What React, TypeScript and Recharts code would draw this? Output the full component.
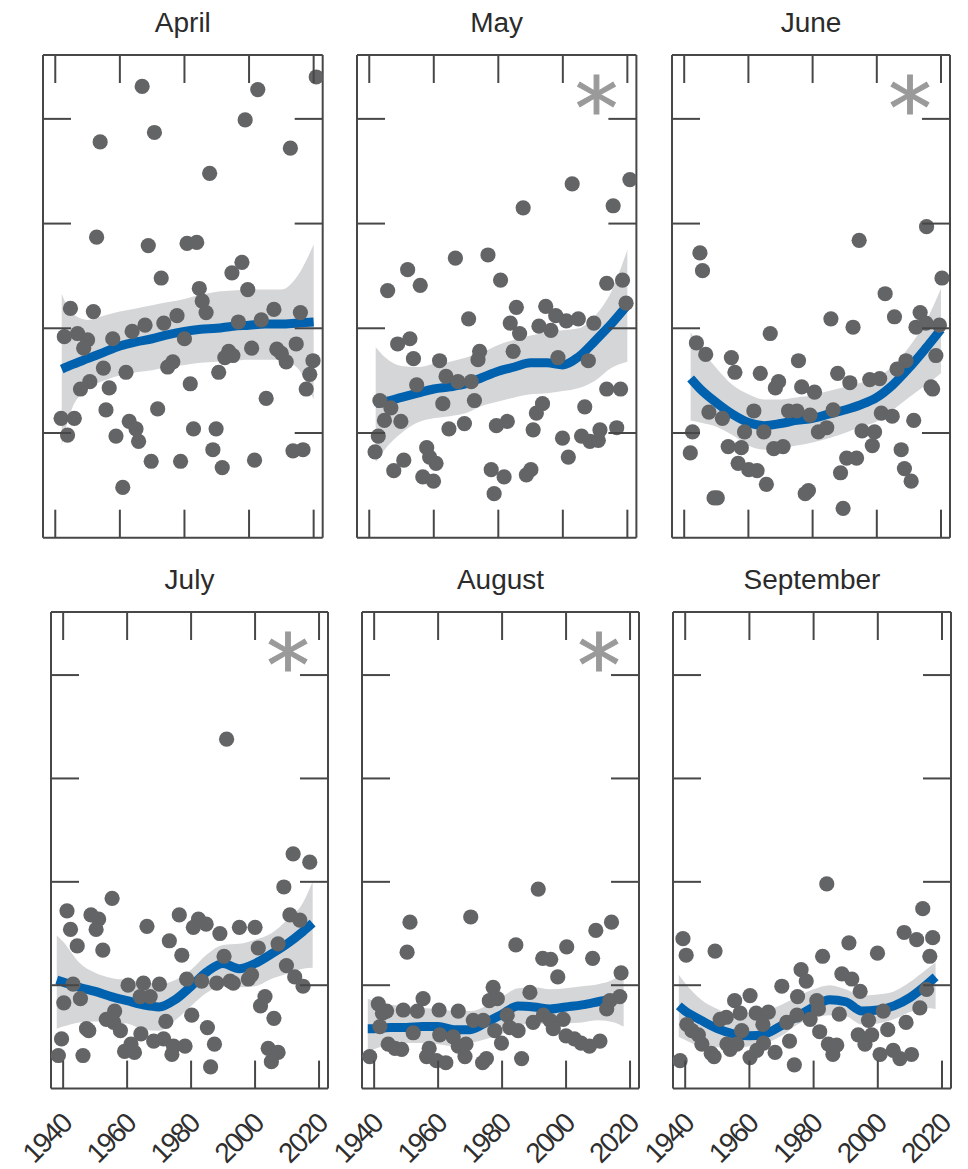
import React from 'react';
import { ComposedChart, XAxis, YAxis, Scatter, Line, Area } from 'recharts';

// annual values per month (y in tick units, ticks at 1..4)
const aprYear = [2020.8, 1966.9, 2002.7, 1998.8, 1970.7, 1953.9, 2012.8, 1987.8, 1952.8, 1968.8, 1980.8, 1983.8, 1997.8, 1994.7, 1972.8, 1984.6, 1999.6, 1985.5, 1986.7, 1944.7, 1951.8, 1977.7, 2007.7, 2015.9, 1967.8, 1973.6, 1963.8, 1996.7, 2003.8, 1942.8, 1946.9, 1950.0, 1948.8, 1957.8, 1980.0, 2014.6, 2000.8, 1993.7, 1995.0, 1992.5, 2008.6, 2010.0, 2011.5, 2019.8, 1976.4, 1974.8, 1954.9, 1961.9, 1990.6, 2018.8, 1950.7, 1947.8, 1956.7, 1981.8, 2017.7, 2005.3, 1955.7, 1971.7, 1941.8, 1945.9, 1943.8, 1962.9, 1965.0, 1958.8, 1965.8, 1982.8, 1989.8, 1988.8, 1969.7, 1978.8, 1991.7, 2001.7, 2013.6, 2016.7, 1960.9];
const aprValue = [4.40, 4.31, 4.28, 3.99, 3.87, 3.78, 3.72, 3.48, 2.87, 2.79, 2.81, 2.82, 2.63, 2.53, 2.48, 2.38, 2.37, 2.26, 2.15, 2.19, 2.16, 2.12, 2.18, 2.15, 2.03, 2.05, 1.97, 2.06, 2.08, 1.92, 1.95, 1.89, 1.81, 1.90, 1.90, 1.85, 1.81, 1.78, 1.74, 1.72, 1.80, 1.76, 1.68, 1.69, 1.68, 1.63, 1.62, 1.58, 1.58, 1.56, 1.49, 1.42, 1.43, 1.47, 1.42, 1.33, 1.22, 1.23, 1.14, 1.14, 0.98, 1.11, 1.04, 0.97, 0.92, 1.04, 1.04, 0.84, 0.73, 0.73, 0.67, 0.74, 0.83, 0.84, 0.48];

const mayYear = [2020.8, 2002.9, 2015.6, 1987.7, 1966.7, 1976.8, 1951.9, 1945.7, 1955.8, 1980.7, 2013.6, 2018.5, 1985.6, 1994.7, 1970.8, 1997.8, 2001.1, 2004.8, 2009.6, 1992.6, 1996.3, 1983.7, 1986.6, 2019.6, 1948.8, 1952.6, 1953.7, 1961.8, 1974.2, 1973.7, 1984.6, 1998.5, 2007.9, 1954.7, 1963.8, 1967.5, 1971.6, 1962.8, 1972.6, 1943.3, 1946.7, 1944.7, 1949.8, 1993.7, 1991.8, 2006.8, 2013.6, 2017.9, 1964.7, 1969.5, 1979.4, 1982.8, 1990.8, 1942.8, 1999.9, 2005.8, 2008.4, 2011.5, 2011.0, 2016.7, 1941.8, 1957.8, 1958.7, 1960.7, 1950.7, 1947.6, 1956.6, 1959.9, 1977.8, 1981.8, 1988.7, 1990.1, 1978.7, 2001.7];
const mayValue = [3.42, 3.38, 3.17, 3.15, 2.67, 2.70, 2.56, 2.36, 2.41, 2.46, 2.43, 2.46, 2.20, 2.21, 2.09, 2.12, 2.07, 2.09, 2.05, 2.02, 1.98, 2.05, 1.95, 2.24, 1.85, 1.90, 1.71, 1.69, 1.78, 1.70, 1.78, 1.72, 1.69, 1.46, 1.54, 1.49, 1.49, 1.28, 1.31, 1.31, 1.24, 1.12, 1.11, 1.28, 1.19, 1.25, 1.42, 1.42, 1.04, 1.09, 1.07, 1.11, 1.03, 0.97, 0.95, 0.97, 0.92, 1.03, 0.93, 1.05, 0.82, 0.86, 0.77, 0.71, 0.74, 0.64, 0.58, 0.54, 0.65, 0.58, 0.60, 0.65, 0.42, 0.77];

const junYear = [2015.5, 1994.5, 1944.9, 1945.7, 2020.3, 2002.6, 2005.5, 2013.5, 1985.7, 1992.6, 2012.2, 2015.3, 2019.5, 1966.8, 1943.8, 1946.7, 1954.7, 1955.8, 1963.7, 1975.6, 2018.4, 2009.1, 2006.3, 1987.8, 1969.4, 1968.4, 1991.6, 1976.6, 1980.6, 1997.8, 2000.9, 2016.9, 2017.4, 1947.7, 1961.7, 1951.9, 1972.5, 1975.1, 1979.2, 1986.4, 2001.4, 2004.8, 2011.5, 1942.6, 1958.8, 1964.8, 1981.8, 1984.4, 1995.4, 1999.3, 1941.9, 1953.7, 1957.8, 1967.9, 1970.8, 1998.6, 1956.8, 1960.1, 1962.7, 1965.6, 1990.6, 1993.7, 1988.7, 2007.6, 2008.6, 2010.7, 1950.3, 1977.7, 1989.5, 1949.3, 1978.7];
const junValue = [2.97, 2.84, 2.72, 2.55, 2.48, 2.33, 2.11, 2.15, 2.09, 2.01, 2.01, 2.05, 2.03, 1.95, 1.86, 1.75, 1.72, 1.58, 1.57, 1.69, 1.74, 1.69, 1.61, 1.57, 1.49, 1.43, 1.48, 1.44, 1.39, 1.51, 1.52, 1.44, 1.42, 1.20, 1.21, 1.14, 1.21, 1.21, 1.17, 1.22, 1.19, 1.16, 1.12, 1.01, 1.01, 1.01, 1.01, 1.05, 1.02, 1.01, 0.81, 0.87, 0.86, 0.85, 0.87, 0.88, 0.71, 0.65, 0.64, 0.51, 0.76, 0.76, 0.62, 0.84, 0.66, 0.54, 0.38, 0.42, 0.28, 0.38, 0.45];

const julYear = [1991.1, 2011.9, 2017.1, 2009.0, 1955.3, 1941.2, 1948.7, 1951.1, 1942.3, 1950.3, 1966.2, 1976.3, 1982.3, 1984.7, 1980.7, 1989.0, 1995.1, 2000.0, 2010.9, 2014.0, 1944.4, 1952.4, 1973.2, 1977.1, 1990.3, 2001.0, 2007.2, 2009.8, 2012.4, 2015.0, 1943.1, 1945.4, 1940.2, 1960.3, 1965.1, 1970.1, 1978.6, 1983.3, 1988.0, 1992.2, 1993.2, 1997.9, 1998.9, 1964.1, 1967.2, 1956.1, 1953.5, 1955.8, 1957.9, 1972.1, 1980.2, 2003.1, 2001.7, 2005.9, 1947.3, 1948.0, 1939.5, 1964.3, 1968.3, 1971.4, 1985.1, 1961.2, 1959.2, 1974.5, 1978.1, 1987.3, 1974.0, 2004.1, 2007.2, 2005.1, 1938.5, 1946.2, 1986.1, 1962.3];
const julValue = [3.38, 2.27, 2.19, 1.95, 1.84, 1.72, 1.68, 1.64, 1.54, 1.54, 1.57, 1.68, 1.64, 1.59, 1.56, 1.50, 1.56, 1.56, 1.68, 1.63, 1.38, 1.34, 1.43, 1.29, 1.28, 1.36, 1.40, 1.19, 1.08, 0.99, 1.01, 0.87, 0.83, 1.00, 1.02, 1.01, 1.06, 1.04, 1.02, 1.04, 1.02, 1.06, 1.10, 0.89, 0.89, 0.75, 0.67, 0.64, 0.56, 0.65, 0.71, 0.89, 0.80, 0.68, 0.58, 0.56, 0.48, 0.53, 0.46, 0.48, 0.59, 0.43, 0.36, 0.41, 0.41, 0.43, 0.33, 0.39, 0.35, 0.26, 0.32, 0.32, 0.21, 0.35];

const augYear = [1991.3, 1970.2, 1951.2, 2014.2, 2009.3, 1984.3, 2000.2, 1950.3, 1992.7, 1995.2, 2008.3, 1997.4, 2017.2, 1977.2, 1976.0, 1978.5, 1988.7, 1941.3, 1942.6, 1943.9, 1949.1, 1953.5, 1955.3, 1960.3, 1966.3, 2013.7, 2016.8, 2012.7, 1989.7, 1992.9, 1995.0, 1999.1, 1971.0, 1974.1, 1981.6, 1952.2, 1960.5, 1964.7, 1977.7, 1985.0, 1996.0, 1944.4, 1946.5, 1948.6, 1957.2, 1966.3, 1968.7, 1979.8, 2000.0, 2002.6, 2004.7, 2007.3, 2010.6, 1938.6, 1956.4, 1959.5, 1962.4, 1968.4, 1973.9, 1986.1, 1975.1, 1941.8, 1982.4];
const augValue = [1.93, 1.66, 1.61, 1.61, 1.53, 1.39, 1.37, 1.32, 1.26, 1.25, 1.26, 1.08, 1.12, 0.98, 0.85, 0.87, 0.93, 0.82, 0.73, 0.75, 0.76, 0.75, 0.87, 0.76, 0.75, 0.85, 0.89, 0.77, 0.64, 0.71, 0.66, 0.67, 0.66, 0.66, 0.71, 0.54, 0.52, 0.50, 0.56, 0.56, 0.58, 0.43, 0.39, 0.38, 0.39, 0.41, 0.43, 0.44, 0.51, 0.48, 0.44, 0.41, 0.46, 0.31, 0.31, 0.27, 0.25, 0.31, 0.25, 0.29, 0.29, 0.60, 0.59];

const sepYear = [1984.1, 2014.0, 1939.3, 1940.3, 1949.3, 1991.0, 2008.2, 2012.1, 2017.1, 1982.8, 1999.9, 2016.2, 1976.1, 1977.7, 1988.8, 1991.9, 1970.1, 1960.2, 1955.4, 1975.0, 1994.5, 1981.0, 2015.2, 1957.1, 1962.1, 1965.9, 1988.0, 2001.7, 2013.1, 1950.9, 1952.8, 1978.9, 1940.5, 1942.1, 1944.1, 1957.6, 1964.2, 1971.6, 1981.9, 1993.9, 1998.1, 2003.1, 2008.8, 1945.2, 1953.0, 1954.0, 1956.1, 1964.4, 1972.5, 1984.6, 1987.2, 1996.0, 1948.1, 1949.0, 1960.2, 1962.3, 1968.0, 1986.0, 2000.7, 2004.8, 2006.9, 2010.5, 1938.4, 1974.0, 1997.1, 1974.8, 1981.5];
const sepValue = [1.98, 1.74, 1.45, 1.29, 1.33, 1.41, 1.51, 1.44, 1.46, 1.28, 1.31, 1.28, 1.15, 1.04, 1.11, 1.06, 0.99, 0.90, 0.85, 0.89, 0.94, 0.85, 0.96, 0.73, 0.73, 0.74, 0.72, 0.75, 0.78, 0.67, 0.69, 0.67, 0.62, 0.56, 0.52, 0.56, 0.62, 0.64, 0.55, 0.52, 0.52, 0.57, 0.64, 0.43, 0.43, 0.38, 0.43, 0.44, 0.46, 0.43, 0.42, 0.43, 0.34, 0.31, 0.30, 0.37, 0.35, 0.33, 0.33, 0.37, 0.29, 0.33, 0.27, 0.23, 0.66, 0.71, 0.77];

// smoothed trend and its confidence band
const topFitYears = [1942, 1945, 1950, 1955, 1960, 1965, 1970, 1975, 1980, 1985, 1990, 1995, 2000, 2005, 2010, 2015, 2020];
const aprFit = [1.61, 1.65, 1.71, 1.77, 1.83, 1.87, 1.90, 1.94, 1.97, 1.99, 2.00, 2.02, 2.03, 2.04, 2.04, 2.05, 2.06];
const aprHi = [2.33, 2.15, 2.08, 2.12, 2.16, 2.19, 2.22, 2.25, 2.28, 2.32, 2.35, 2.36, 2.37, 2.37, 2.37, 2.50, 2.80];
const aprLo = [0.88, 1.22, 1.42, 1.50, 1.55, 1.58, 1.60, 1.63, 1.65, 1.67, 1.68, 1.69, 1.70, 1.70, 1.70, 1.62, 1.32];
const mayFit = [1.28, 1.30, 1.34, 1.38, 1.42, 1.44, 1.47, 1.53, 1.59, 1.63, 1.67, 1.67, 1.65, 1.73, 1.88, 2.04, 2.22];
const mayHi = [1.82, 1.72, 1.64, 1.63, 1.66, 1.68, 1.72, 1.77, 1.84, 1.89, 1.93, 1.96, 1.98, 2.00, 2.12, 2.35, 2.75];
const mayLo = [0.72, 0.85, 1.00, 1.10, 1.14, 1.16, 1.19, 1.26, 1.30, 1.34, 1.37, 1.38, 1.40, 1.43, 1.50, 1.62, 1.68];
const junFit = [1.52, 1.42, 1.29, 1.18, 1.10, 1.07, 1.09, 1.12, 1.14, 1.18, 1.22, 1.27, 1.34, 1.46, 1.62, 1.80, 1.99];
const junHi = [1.96, 1.82, 1.62, 1.46, 1.37, 1.32, 1.32, 1.34, 1.36, 1.40, 1.44, 1.48, 1.53, 1.64, 1.82, 2.05, 2.38];
const junLo = [1.12, 1.10, 1.06, 0.98, 0.88, 0.84, 0.85, 0.88, 0.91, 0.95, 1.00, 1.06, 1.11, 1.22, 1.34, 1.45, 1.57];

const bottomFitYears = [1938, 1940, 1945, 1950, 1955, 1960, 1965, 1970, 1975, 1980, 1985, 1990, 1995, 2000, 2005, 2010, 2015, 2018];
const julFit = [1.05, 1.03, 0.98, 0.94, 0.89, 0.85, 0.81, 0.79, 0.86, 0.99, 1.13, 1.21, 1.16, 1.21, 1.30, 1.40, 1.52, 1.60];
const julHi = [1.48, 1.42, 1.22, 1.12, 1.07, 1.05, 1.03, 1.01, 1.05, 1.15, 1.30, 1.39, 1.40, 1.44, 1.50, 1.63, 1.80, 2.00];
const julLo = [0.58, 0.60, 0.64, 0.65, 0.64, 0.63, 0.57, 0.56, 0.66, 0.80, 0.93, 0.99, 0.98, 0.99, 1.06, 1.11, 1.16, 1.17];
const augFit = [0.58, 0.58, 0.59, 0.59, 0.60, 0.60, 0.57, 0.57, 0.64, 0.72, 0.80, 0.79, 0.77, 0.79, 0.81, 0.84, 0.87, 0.89];
const augHi = [0.87, 0.85, 0.81, 0.80, 0.78, 0.77, 0.75, 0.75, 0.80, 0.89, 0.97, 0.98, 0.96, 0.97, 0.99, 1.01, 1.06, 1.15];
const augLo = [0.35, 0.38, 0.43, 0.44, 0.44, 0.43, 0.41, 0.44, 0.48, 0.53, 0.61, 0.63, 0.62, 0.63, 0.64, 0.66, 0.64, 0.60];
const sepFit = [0.80, 0.75, 0.66, 0.58, 0.53, 0.51, 0.53, 0.61, 0.70, 0.79, 0.86, 0.84, 0.75, 0.76, 0.80, 0.88, 1.00, 1.08];
const sepHi = [1.10, 1.02, 0.86, 0.77, 0.71, 0.72, 0.75, 0.81, 0.89, 0.96, 1.00, 0.96, 0.90, 0.91, 0.94, 1.03, 1.15, 1.22];
const sepLo = [0.50, 0.47, 0.41, 0.40, 0.39, 0.41, 0.44, 0.51, 0.62, 0.68, 0.71, 0.70, 0.62, 0.63, 0.67, 0.74, 0.78, 0.77];

const xTicks = [1940, 1960, 1980, 2000, 2020];
const yTicks = [1, 2, 3, 4];

const FONT = "'Liberation Sans', Arial, sans-serif";
const FRAME = '#474747';
const DOT = '#636466';
const BLUE = '#0061ae';
const BAND = '#d5d6d8';
const STAR = '#9a9a9a';
const TICK_LEN = 28;
// space round the frame; each axis takes 1px of it
const PAD = { top: 55, left: 45, right: 15, bottom: 85 };
const M = { top: PAD.top - 1, left: PAD.left - 1, right: PAD.right - 1, bottom: PAD.bottom - 1 };

interface PanelProps {
  title: string;
  years: number[];
  values: number[];
  fitYears: number[];
  fit: number[];
  lo: number[];
  hi: number[];
  star?: boolean;
  labels?: boolean;
  box: [number, number, number, number]; // left, top, right, bottom on the page
}

const Panel = ({ title, years, values, fitYears, fit, lo, hi, star, labels, box }: PanelProps) => {
  const [L, T, R, B] = box;
  const w = R - L;
  const h = B - T;
  const dots = years.map((year, i) => ({ year, value: values[i] }));
  const trend = fitYears.map((year, i) => ({ year, fit: fit[i], band: [lo[i], hi[i]] }));
  const frame = { stroke: FRAME, strokeWidth: 2 };

  return (
    <div style={{ position: 'absolute', left: L - PAD.left, top: T - PAD.top }}>
      <ComposedChart width={w + PAD.left + PAD.right} height={h + PAD.top + PAD.bottom} data={trend} margin={M}>
        <XAxis xAxisId="b" dataKey="year" type="number" domain={[1936.2, 2022.8]} allowDataOverflow
          ticks={xTicks} interval={0} height={1} tickSize={0} tickMargin={0} axisLine={frame} tickLine={false}
          tick={(p: any) => (
            <g>
              <line x1={p.x} y1={p.y} x2={p.x} y2={p.y - TICK_LEN} {...frame} />
              {labels && (
                <text x={p.x + 10} y={p.y + 37} textAnchor="end" fontSize={28} letterSpacing={-1.8} fill="#2e2e2e"
                  fontFamily={FONT} transform={`rotate(-45 ${p.x + 10} ${p.y + 37})`}>{p.payload.value}</text>
              )}
            </g>
          )} />
        <XAxis xAxisId="t" orientation="top" dataKey="year" type="number" domain={[1936.2, 2022.8]} allowDataOverflow
          ticks={xTicks} interval={0} height={1} tickSize={0} tickMargin={0} axisLine={frame} tickLine={false}
          tick={(p: any) => <line x1={p.x} y1={p.y} x2={p.x} y2={p.y + TICK_LEN} {...frame} />} />
        <YAxis yAxisId="l" type="number" domain={[0, 4.61]} allowDataOverflow ticks={yTicks} interval={0}
          width={1} tickSize={0} tickMargin={0} axisLine={frame} tickLine={false}
          tick={(p: any) => <line x1={p.x} y1={p.y} x2={p.x + TICK_LEN} y2={p.y} {...frame} />} />
        <YAxis yAxisId="r" orientation="right" type="number" domain={[0, 4.61]} allowDataOverflow ticks={yTicks} interval={0}
          width={1} tickSize={0} tickMargin={0} axisLine={frame} tickLine={false}
          tick={(p: any) => <line x1={p.x} y1={p.y} x2={p.x - TICK_LEN} y2={p.y} {...frame} />} />
        <Area xAxisId="b" yAxisId="l" type="monotone" dataKey="band" stroke="none" fill={BAND} fillOpacity={1}
          isAnimationActive={false} />
        <Scatter xAxisId="b" yAxisId="l" data={dots} dataKey="value" isAnimationActive={false}
          shape={(p: any) => <circle cx={p.cx} cy={p.cy} r={7.6} fill={DOT} />} />
        <Line xAxisId="b" yAxisId="l" type="monotone" dataKey="fit" stroke={BLUE} strokeWidth={9} dot={false}
          isAnimationActive={false} />
        <text x={PAD.left + w / 2} y={32} textAnchor="middle" fontSize={28} fill="#2b2b2b" fontFamily={FONT}>{title}</text>
        {star && (
          <text x={PAD.left + w - 40} y={PAD.top + 39 + 45} textAnchor="middle" fontSize={86} fill={STAR}
            stroke={STAR} strokeWidth={1} fontFamily="'DejaVu Sans', sans-serif">*</text>
        )}
      </ComposedChart>
    </div>
  );
};

export default function App() {
  return (
    <div style={{ position: 'absolute', left: 0, top: 0, width: 968, height: 1169, background: '#fff' }}>
      <Panel title="April" years={aprYear} values={aprValue} fitYears={topFitYears} fit={aprFit} lo={aprLo} hi={aprHi}
        box={[43.3, 55, 323, 537.7]} />
      <Panel title="May" years={mayYear} values={mayValue} fitYears={topFitYears} fit={mayFit} lo={mayLo} hi={mayHi}
        star box={[357.3, 55, 636.7, 537.7]} />
      <Panel title="June" years={junYear} values={junValue} fitYears={topFitYears} fit={junFit} lo={junLo} hi={junHi}
        star box={[672, 55, 950, 537.7]} />
      <Panel title="July" years={julYear} values={julValue} fitYears={bottomFitYears} fit={julFit} lo={julLo} hi={julHi}
        star labels box={[51, 611.7, 328, 1088.3]} />
      <Panel title="August" years={augYear} values={augValue} fitYears={bottomFitYears} fit={augFit} lo={augLo} hi={augHi}
        star labels box={[362, 611.7, 639, 1088.3]} />
      <Panel title="September" years={sepYear} values={sepValue} fitYears={bottomFitYears} fit={sepFit} lo={sepLo} hi={sepHi}
        labels box={[673, 611.7, 951, 1088.3]} />
    </div>
  );
}
